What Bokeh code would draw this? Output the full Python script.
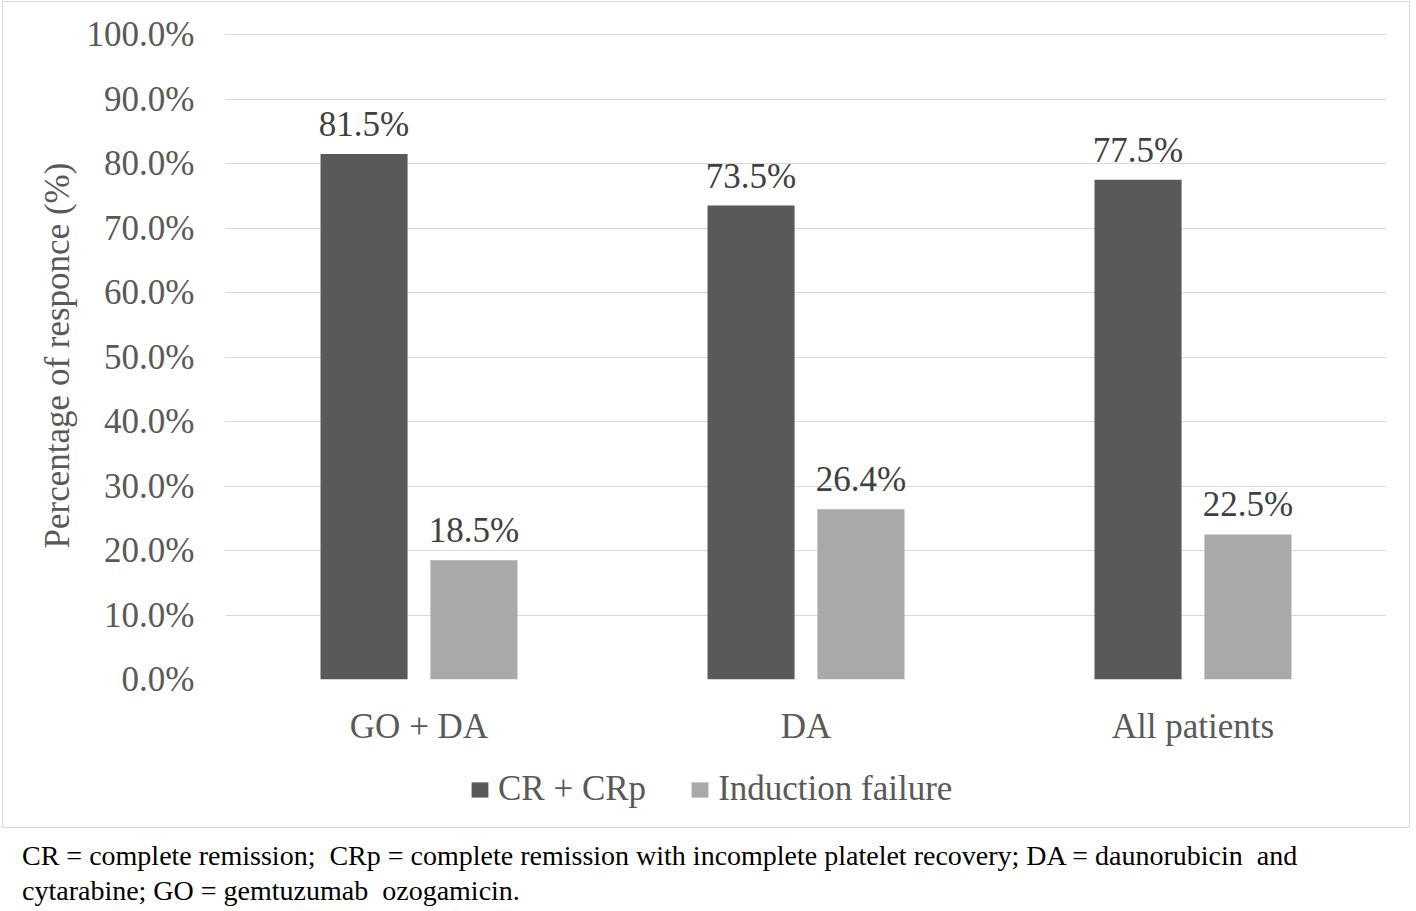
from bokeh.plotting import figure
from bokeh.models import (FactorRange, Range1d, FixedTicker, PrintfTickFormatter,
                          LabelSet, ColumnDataSource, Legend, LegendItem, Div)
from bokeh.transform import dodge
from bokeh.layouts import column
from bokeh.embed import file_html
from bokeh.resources import INLINE

# ---- data ----
categories = ["GO + DA", "DA", "All patients"]
cr_crp = [81.5, 73.5, 77.5]
induction_failure = [18.5, 26.4, 22.5]
series_names = ["CR + CRp", "Induction failure"]
y_ticks = [0, 10, 20, 30, 40, 50, 60, 70, 80, 90, 100]
footnote_lines = [
    "CR = complete remission;&nbsp; CRp = complete remission with incomplete platelet recovery; DA = daunorubicin&nbsp; and",
    "cytarabine; GO = gemtuzumab&nbsp; ozogamicin.",
]

DARK = "#595959"
LIGHT = "#a9a9a9"
GRID = "#d9d9d9"
TXT = "#595959"
FONT = "Liberation Serif"
FS = "35px"

src = ColumnDataSource(dict(
    cat=categories,
    cr=cr_crp,
    ind=induction_failure,
    cr_lbl=[f"{v:.1f}%" for v in cr_crp],
    ind_lbl=[f"{v:.1f}%" for v in induction_failure],
))

W = 1406
p = figure(x_range=FactorRange(factors=categories), y_range=Range1d(0, 100.5),
           width=W, height=746, output_backend="svg", toolbar_location=None,
           min_border_left=222, min_border_right=23, min_border_top=29,
           min_border_bottom=66)
p.outline_line_color = None
p.background_fill_color = "white"
p.border_fill_color = "white"

r1 = p.vbar(x=dodge("cat", -0.142, range=p.x_range), top="cr", width=0.225,
            source=src, fill_color=DARK, line_color=None)
r2 = p.vbar(x=dodge("cat", 0.142, range=p.x_range), top="ind", width=0.225,
            source=src, fill_color=LIGHT, line_color=None)

for col, off in (("cr", -0.142), ("ind", 0.142)):
    p.add_layout(LabelSet(x=dodge("cat", off, range=p.x_range), y=col,
                          text=col + "_lbl", source=src, y_offset=18,
                          text_align="center", text_baseline="alphabetic",
                          text_font=FONT, text_font_size=FS, text_color="#404040"))

# axes
p.yaxis.ticker = FixedTicker(ticks=y_ticks)
p.yaxis.formatter = PrintfTickFormatter(format="%.1f%%")
p.yaxis.axis_line_color = None
p.yaxis.major_tick_line_color = None
p.yaxis.minor_tick_line_color = None
p.yaxis.major_label_standoff = 25
p.yaxis.major_label_text_font = FONT
p.yaxis.major_label_text_font_size = FS
p.yaxis.major_label_text_color = TXT
p.yaxis.axis_label = "Percentage of responce (%)"
p.yaxis.axis_label_text_font = FONT
p.yaxis.axis_label_text_font_size = FS
p.yaxis.axis_label_text_font_style = "normal"
p.yaxis.axis_label_text_color = TXT
p.yaxis.axis_label_standoff = 7

p.xaxis.axis_line_color = None
p.xaxis.major_tick_line_color = None
p.xaxis.minor_tick_line_color = None
p.xaxis.major_label_standoff = 21
p.xaxis.major_label_text_font = FONT
p.xaxis.major_label_text_font_size = FS
p.xaxis.major_label_text_color = TXT

p.xgrid.grid_line_color = None
p.ygrid.grid_line_color = GRID
p.ygrid.grid_line_width = 1

# legend strip (inside the same bordered chart box)
lf = figure(width=W, height=79, output_backend="svg", toolbar_location=None,
            x_range=Range1d(0, 1), y_range=Range1d(0, 1),
            min_border=0, min_border_left=0, min_border_right=0,
            min_border_top=0, min_border_bottom=0)
lf.axis.visible = False
lf.grid.visible = False
lf.outline_line_color = None
lf.background_fill_color = "white"
lf.border_fill_color = "white"
# zero-size key glyphs: only their legend swatches are visible
k1 = lf.vbar(x=[0.5], top=[0], bottom=[0], width=0, fill_color=DARK, line_color=None)
k2 = lf.vbar(x=[0.5], top=[0], bottom=[0], width=0, fill_color=LIGHT, line_color=None)
legend = Legend(items=[LegendItem(label=series_names[0], renderers=[k1]),
                       LegendItem(label=series_names[1], renderers=[k2])],
                location=(244, 18), orientation="horizontal",
                glyph_width=21, glyph_height=19, label_standoff=8, spacing=43,
                padding=0, margin=0, border_line_color=None,
                background_fill_alpha=0,
                label_text_font=FONT, label_text_font_size=FS,
                label_text_color=TXT)
lf.add_layout(legend)

box = column(p, lf, spacing=0, margin=(1, 0, 0, 2),
             styles={"border": "1px solid #d9d9d9"})

div = Div(text="<br>".join(footnote_lines), width=1390, height=70,
          margin=(10, 0, 0, 22),
          styles={"font-family": FONT, "font-size": "28px",
                  "line-height": "35px", "color": "black", "white-space": "nowrap"})

layout = column(box, div, spacing=0)
open("out.html", "w").write(file_html(layout, INLINE))
